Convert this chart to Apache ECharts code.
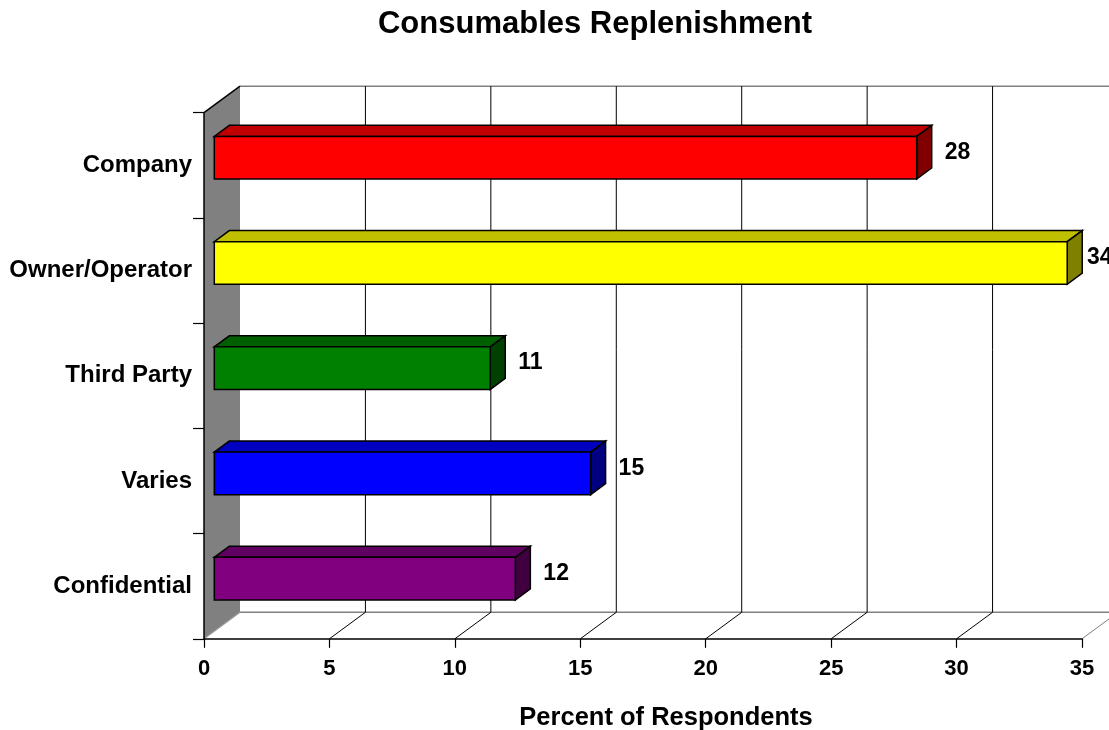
<!DOCTYPE html>
<html>
<head>
<meta charset="utf-8">
<title>Consumables Replenishment</title>
<script src="https://cdn.jsdelivr.net/npm/echarts@6/dist/echarts.min.js"></script>
<style>
  html, body { margin: 0; padding: 0; background: #fff; }
  #chart { width: 1109px; height: 730px; }
</style>
</head>
<body>
<div id="chart"></div>
<script>
// Survey answers: who replenishes consumables
const categories = ['Company', 'Owner/Operator', 'Third Party', 'Varies', 'Confidential'];
const values = [28, 34, 11, 15, 12];
const valueTicks = [0, 5, 10, 15, 20, 25, 30, 35];

// Face colours of each 3D bar
const frontColors = ['#FF0000', '#FFFF00', '#008000', '#0000FF', '#800080'];
const topColors   = ['#C00000', '#C0C000', '#006000', '#0000C0', '#600060'];
const sideColors  = ['#800000', '#808000', '#004000', '#000080', '#400040'];

const FONT = '"Liberation Sans", Arial, Helvetica, sans-serif';
const W = 1109;
// Depth of the 3D box (back wall offset from the front plane)
const DX = 36, DY = -26.5;
// Bars sit between these fractions of the depth
const F1 = 0.286, F2 = 0.703;
const HALF_BAR = 0.2025; // half bar thickness as a share of the category band

const chart = echarts.init(document.getElementById('chart'), null, { renderer: 'canvas' });

function frameItem(params, api) {
  const bandH = api.size([0, 1])[1];
  const top = api.coord([0, 0])[1] - bandH / 2;
  const bottom = api.coord([0, categories.length - 1])[1] + bandH / 2;
  const x0 = api.coord([valueTicks[0], 0])[0];
  const children = [];
  // left side wall
  children.push({
    type: 'polygon',
    shape: { points: [[x0, top], [x0 + DX, top + DY], [x0 + DX, bottom + DY], [x0, bottom]] },
    style: { fill: '#808080' }
  });
  // back wall outline
  children.push({ type: 'line', shape: { x1: x0 + DX, y1: top + DY, x2: W, y2: top + DY },
    style: { stroke: '#808080', lineWidth: 1.5 } });
  children.push({ type: 'line', shape: { x1: x0 + DX, y1: bottom + DY, x2: W, y2: bottom + DY },
    style: { stroke: '#808080', lineWidth: 1.5 } });
  // wall edges
  children.push({ type: 'line', shape: { x1: x0, y1: top, x2: x0 + DX, y2: top + DY },
    style: { stroke: '#000', lineWidth: 1.5 } });
  children.push({ type: 'line', shape: { x1: x0, y1: bottom, x2: x0 + DX, y2: bottom + DY },
    style: { stroke: '#9a9a9a', lineWidth: 1.2 } });
  // gridlines on the back wall and floor
  valueTicks.slice(1).forEach(function (v, k, arr) {
    const x = api.coord([v, 0])[0];
    const last = k === arr.length - 1;
    children.push({ type: 'line', shape: { x1: x + DX, y1: top + DY, x2: x + DX, y2: bottom + DY },
      style: { stroke: '#000', lineWidth: 1 } });
    children.push({ type: 'line', shape: { x1: x, y1: bottom, x2: x + DX, y2: bottom + DY },
      style: { stroke: last ? '#808080' : '#000', lineWidth: 1 } });
  });
  return { type: 'group', children: children };
}

function barItem(params, api) {
  const v = api.value(0);
  const i = api.value(1);
  const start = api.coord([0, i]);
  const end = api.coord([v, i]);
  const bandH = api.size([0, 1])[1];
  const half = bandH * HALF_BAR;
  const xl1 = start[0] + DX * F1, xr1 = end[0] + DX * F1;
  const xl2 = start[0] + DX * F2, xr2 = end[0] + DX * F2;
  const c1 = start[1] + DY * F1, c2 = start[1] + DY * F2;
  const stroke = { stroke: '#000', lineWidth: 1.5, lineJoin: 'miter' };
  // value label sits right of the bar, pulled back in near the chart edge
  const labelX = Math.min(xr2 + 13, W - 22);
  return {
    type: 'group',
    children: [
      { type: 'polygon',
        shape: { points: [[xl1, c1 - half], [xr1, c1 - half], [xr2, c2 - half], [xl2, c2 - half]] },
        style: Object.assign({ fill: topColors[i] }, stroke) },
      { type: 'polygon',
        shape: { points: [[xr1, c1 - half], [xr2, c2 - half], [xr2, c2 + half], [xr1, c1 + half]] },
        style: Object.assign({ fill: sideColors[i] }, stroke) },
      { type: 'rect',
        shape: { x: xl1, y: c1 - half, width: xr1 - xl1, height: 2 * half },
        style: Object.assign({ fill: frontColors[i] }, stroke) },
      { type: 'text',
        style: { x: labelX, y: (c1 + c2) / 2 + 0.5, text: String(v),
          fill: '#000', font: 'bold 23px ' + FONT, verticalAlign: 'middle', align: 'left' } }
    ]
  };
}

chart.setOption({
  animation: false,
  backgroundColor: '#fff',
  title: [
    { text: 'Consumables Replenishment', left: 590, top: 4, textAlign: 'center',
      textStyle: { fontFamily: FONT, fontWeight: 'bold', fontSize: 31, color: '#000' } },
    { text: 'Percent of Respondents', left: 661, top: 700, textAlign: 'center',
      textStyle: { fontFamily: FONT, fontWeight: 'bold', fontSize: 25.5, color: '#000' } }
  ],
  grid: { left: 204, right: 27, top: 112.7, bottom: 91.2, containLabel: false },
  xAxis: {
    type: 'value',
    min: valueTicks[0],
    max: valueTicks[valueTicks.length - 1],
    interval: valueTicks[1] - valueTicks[0],
    z: 5,
    splitLine: { show: false },
    axisLine: { show: true, lineStyle: { color: '#000', width: 1.5 } },
    axisTick: { show: true, inside: false, length: 9, lineStyle: { color: '#000', width: 1.2 } },
    axisLabel: { margin: 19, fontFamily: FONT, fontWeight: 'bold', fontSize: 22, color: '#000' }
  },
  yAxis: {
    type: 'category',
    data: categories,
    inverse: true,
    z: 5,
    axisLine: { show: true, lineStyle: { color: '#000', width: 1.5 } },
    axisTick: { show: true, inside: false, length: 11, lineStyle: { color: '#000', width: 1.2 } },
    axisLabel: { margin: 12, fontFamily: FONT, fontWeight: 'bold', fontSize: 24, color: '#000' },
    splitLine: { show: false }
  },
  series: [
    { type: 'custom', name: 'frame', z: 1, silent: true,
      renderItem: frameItem, data: [[0, 0]], clip: false },
    { type: 'custom', name: 'bars', z: 3,
      renderItem: barItem, clip: false,
      data: values.map(function (v, i) { return [v, i]; }) }
  ]
});
</script>
</body>
</html>
